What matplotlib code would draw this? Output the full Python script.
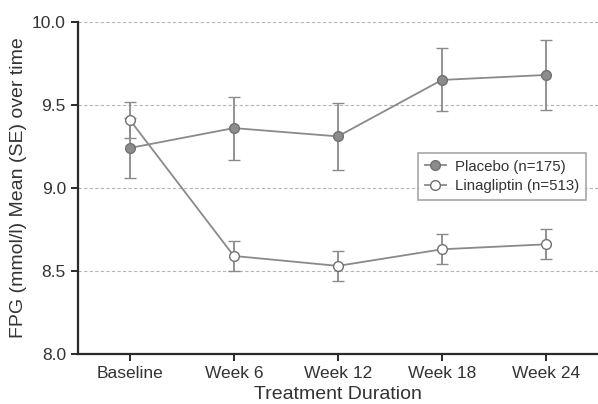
import matplotlib
matplotlib.use('Agg')
import matplotlib.pyplot as plt
from matplotlib.lines import Line2D
import numpy as np

plt.rcParams['font.family'] = ['Liberation Sans', 'DejaVu Sans']

# time points
visits = ['Baseline', 'Week 6', 'Week 12', 'Week 18', 'Week 24']

# mean FPG and SE (mmol/l)
placebo_mean = [9.24, 9.36, 9.31, 9.65, 9.68]
placebo_se = [0.18, 0.19, 0.20, 0.19, 0.21]
lina_mean = [9.41, 8.59, 8.53, 8.63, 8.66]
lina_se = [0.11, 0.09, 0.09, 0.09, 0.09]

yticks = [8.0, 8.5, 9.0, 9.5, 10.0]

line_col = '#8a8a8a'
txt_col = '#333333'

fig = plt.figure(figsize=(5.98, 4.04), dpi=100)
ax = fig.add_axes([0.130, 0.124, 0.870, 0.822])

x = np.arange(len(visits))

ax.errorbar(x, placebo_mean, yerr=placebo_se, color=line_col, lw=1.3,
            marker='o', ms=7, mfc='#8c8c8c', mec='#707070', mew=1.0,
            capsize=4, elinewidth=1.3, capthick=1.3, zorder=3)
ax.errorbar(x, lina_mean, yerr=lina_se, color=line_col, lw=1.3,
            marker='o', ms=7, mfc='white', mec='#707070', mew=1.0,
            capsize=4, elinewidth=1.3, capthick=1.3, zorder=4)

ax.set_xlim(-0.5, 4.5)
ax.set_ylim(8.0, 10.0)
ax.set_yticks(yticks)
ax.set_yticklabels([f'{v:.1f}' for v in yticks])
ax.set_xticks(x)
ax.set_xticklabels(visits)

for v in yticks[1:]:
    ax.axhline(v, color='#b5b5b5', lw=0.8, ls=(0, (3, 2)), zorder=1)

ax.spines['top'].set_visible(False)
ax.spines['right'].set_visible(False)
for s in ['left', 'bottom']:
    ax.spines[s].set_color('#2a2a2a')
    ax.spines[s].set_linewidth(1.6)
ax.tick_params(axis='both', direction='out', length=5, width=1.4,
               color='#2a2a2a', labelsize=12.5, labelcolor=txt_col)

ax.set_xlabel('Treatment Duration', fontsize=14, color=txt_col, labelpad=4)
ax.set_ylabel('FPG (mmol/l) Mean (SE) over time', fontsize=14, color=txt_col, labelpad=4)

handles = [
    Line2D([], [], color=line_col, lw=1.3, marker='o', ms=7,
           mfc='#8c8c8c', mec='#707070', mew=1.0),
    Line2D([], [], color=line_col, lw=1.3, marker='o', ms=7,
           mfc='white', mec='#707070', mew=1.0),
]
leg = ax.legend(handles, ['Placebo (n=175)', 'Linagliptin (n=513)'],
                loc='upper left', bbox_to_anchor=(0.64, 0.628), frameon=True,
                fancybox=False, edgecolor='#909090', fontsize=10.8,
                handlelength=1.4, handletextpad=0.6, borderpad=0.45,
                labelspacing=0.35)
leg.get_frame().set_linewidth(1.2)
for t in leg.get_texts():
    t.set_color(txt_col)

fig.savefig('out.png', dpi=100)
